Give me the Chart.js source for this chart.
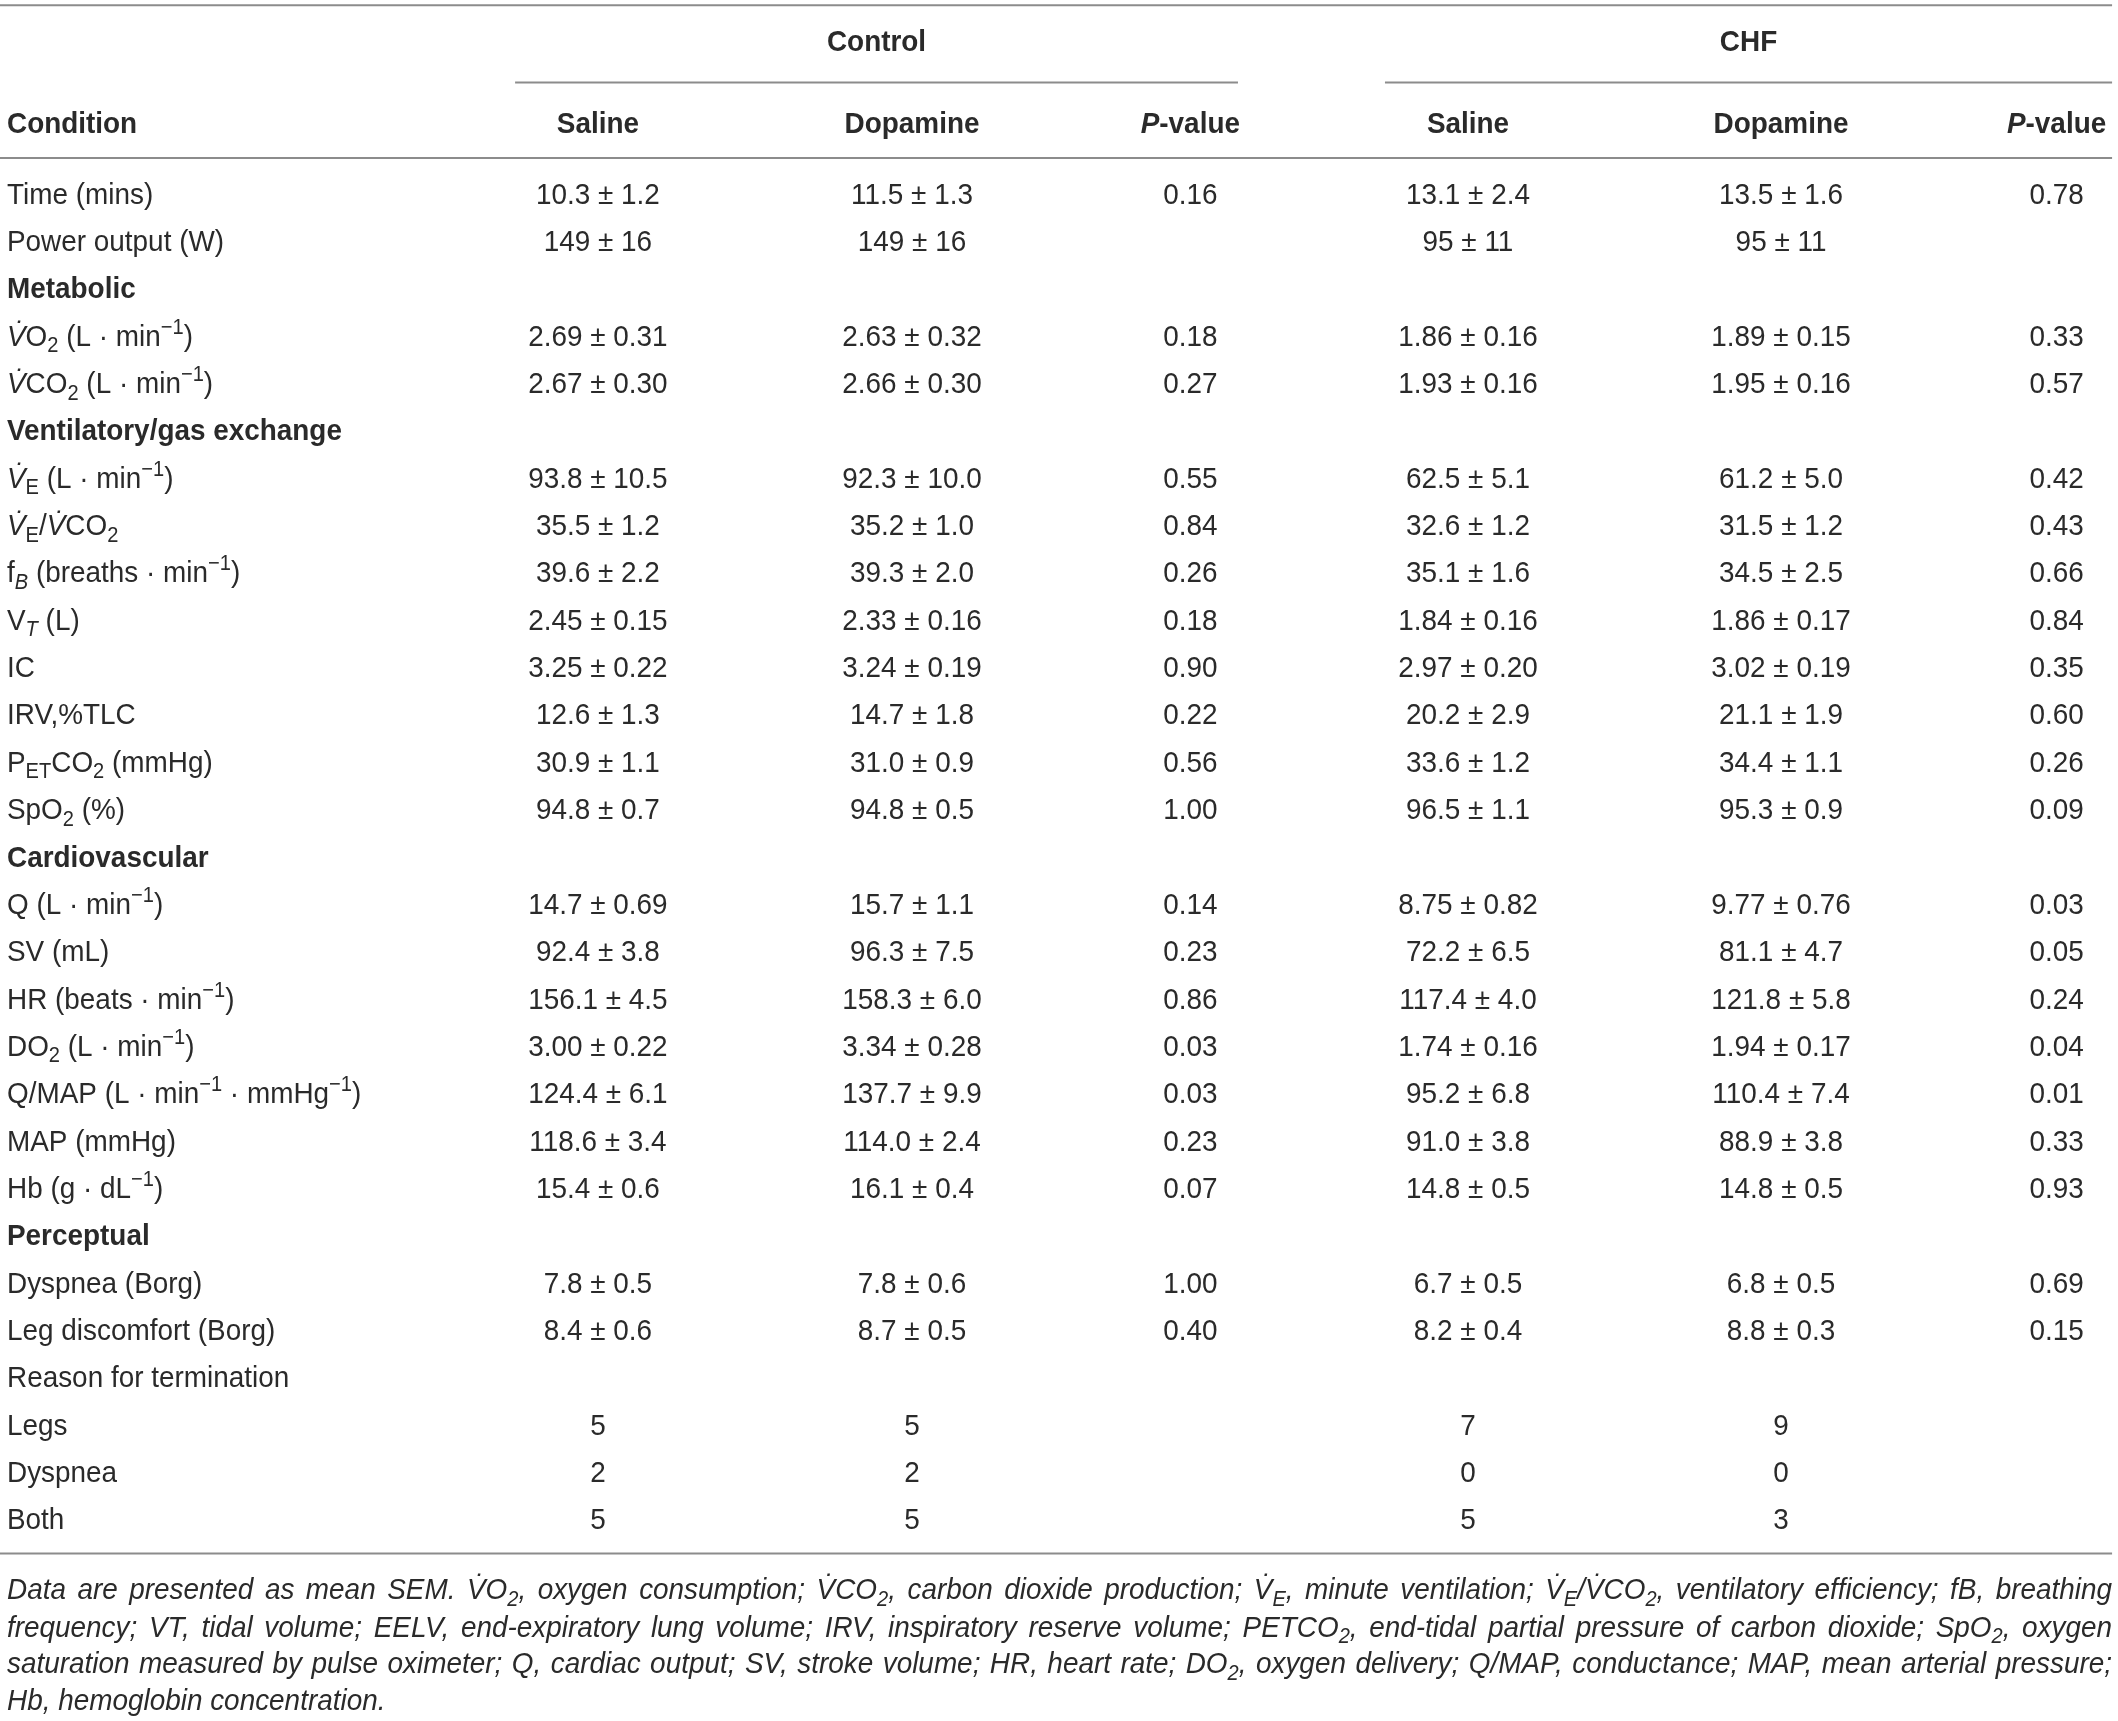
<!DOCTYPE html>
<html lang="en">
<head>
<meta charset="utf-8" />
<title>Control vs CHF table</title>
<script src="https://cdn.jsdelivr.net/npm/chart.js@4.4.1/dist/chart.umd.min.js"></script>
<style>
  html, body { margin: 0; padding: 0; background: #fff; }
  canvas { display: block; }
</style>
</head>
<body>
<canvas id="tbl" width="2118" height="1721"></canvas>
<script>
// ---- table data ----
// markup: _{..} subscript, ^{..} superscript, *{..} italic, !{..} bold
const V = '*{V\u0307}';
const conditions = [
  'Time (mins)', 'Power output (W)', '!{Metabolic}',
  V + 'O_{2} (L · min^{\u22121})', V + 'CO_{2} (L · min^{\u22121})',
  '!{Ventilatory/gas exchange}',
  V + '_{E} (L · min^{\u22121})', V + '_{E}/' + V + 'CO_{2}',
  'f_{*{B}} (breaths · min^{\u22121})', 'V_{*{T}} (L)', 'IC', 'IRV,%TLC',
  'P_{ET}CO_{2} (mmHg)', 'SpO_{2} (%)',
  '!{Cardiovascular}',
  'Q (L · min^{\u22121})', 'SV (mL)', 'HR (beats · min^{\u22121})', 'DO_{2} (L · min^{\u22121})',
  'Q/MAP (L · min^{\u22121} · mmHg^{\u22121})', 'MAP (mmHg)', 'Hb (g · dL^{\u22121})',
  '!{Perceptual}',
  'Dyspnea (Borg)', 'Leg discomfort (Borg)', 'Reason for termination',
  'Legs', 'Dyspnea', 'Both'
];
const ctrlSaline = ['10.3 ± 1.2', '149 ± 16', '', '2.69 ± 0.31', '2.67 ± 0.30', '',
  '93.8 ± 10.5', '35.5 ± 1.2', '39.6 ± 2.2', '2.45 ± 0.15', '3.25 ± 0.22', '12.6 ± 1.3', '30.9 ± 1.1', '94.8 ± 0.7', '',
  '14.7 ± 0.69', '92.4 ± 3.8', '156.1 ± 4.5', '3.00 ± 0.22', '124.4 ± 6.1', '118.6 ± 3.4', '15.4 ± 0.6', '',
  '7.8 ± 0.5', '8.4 ± 0.6', '', '5', '2', '5'];
const ctrlDopamine = ['11.5 ± 1.3', '149 ± 16', '', '2.63 ± 0.32', '2.66 ± 0.30', '',
  '92.3 ± 10.0', '35.2 ± 1.0', '39.3 ± 2.0', '2.33 ± 0.16', '3.24 ± 0.19', '14.7 ± 1.8', '31.0 ± 0.9', '94.8 ± 0.5', '',
  '15.7 ± 1.1', '96.3 ± 7.5', '158.3 ± 6.0', '3.34 ± 0.28', '137.7 ± 9.9', '114.0 ± 2.4', '16.1 ± 0.4', '',
  '7.8 ± 0.6', '8.7 ± 0.5', '', '5', '2', '5'];
const ctrlP = ['0.16', '', '', '0.18', '0.27', '',
  '0.55', '0.84', '0.26', '0.18', '0.90', '0.22', '0.56', '1.00', '',
  '0.14', '0.23', '0.86', '0.03', '0.03', '0.23', '0.07', '',
  '1.00', '0.40', '', '', '', ''];
const chfSaline = ['13.1 ± 2.4', '95 ± 11', '', '1.86 ± 0.16', '1.93 ± 0.16', '',
  '62.5 ± 5.1', '32.6 ± 1.2', '35.1 ± 1.6', '1.84 ± 0.16', '2.97 ± 0.20', '20.2 ± 2.9', '33.6 ± 1.2', '96.5 ± 1.1', '',
  '8.75 ± 0.82', '72.2 ± 6.5', '117.4 ± 4.0', '1.74 ± 0.16', '95.2 ± 6.8', '91.0 ± 3.8', '14.8 ± 0.5', '',
  '6.7 ± 0.5', '8.2 ± 0.4', '', '7', '0', '5'];
const chfDopamine = ['13.5 ± 1.6', '95 ± 11', '', '1.89 ± 0.15', '1.95 ± 0.16', '',
  '61.2 ± 5.0', '31.5 ± 1.2', '34.5 ± 2.5', '1.86 ± 0.17', '3.02 ± 0.19', '21.1 ± 1.9', '34.4 ± 1.1', '95.3 ± 0.9', '',
  '9.77 ± 0.76', '81.1 ± 4.7', '121.8 ± 5.8', '1.94 ± 0.17', '110.4 ± 7.4', '88.9 ± 3.8', '14.8 ± 0.5', '',
  '6.8 ± 0.5', '8.8 ± 0.3', '', '9', '0', '3'];
const chfP = ['0.78', '', '', '0.33', '0.57', '',
  '0.42', '0.43', '0.66', '0.84', '0.35', '0.60', '0.26', '0.09', '',
  '0.03', '0.05', '0.24', '0.04', '0.01', '0.33', '0.93', '',
  '0.69', '0.15', '', '', '', ''];

const groupHeaders = ['Control', 'CHF'];
const columnHeaders = ['Condition', 'Saline', 'Dopamine', '*{P}-value', 'Saline', 'Dopamine', '*{P}-value'];
const footnote = [
  'Data are presented as mean SEM. V\u0307O_{2}, oxygen consumption; V\u0307CO_{2}, carbon dioxide production; V\u0307_{E}, minute ventilation; V\u0307_{E}/V\u0307CO_{2}, ventilatory efficiency; fB, breathing',
  'frequency; VT, tidal volume; EELV, end-expiratory lung volume; IRV, inspiratory reserve volume; PETCO_{2}, end-tidal partial pressure of carbon dioxide; SpO_{2}, oxygen',
  'saturation measured by pulse oximeter; Q, cardiac output; SV, stroke volume; HR, heart rate; DO_{2}, oxygen delivery; Q/MAP, conductance; MAP, mean arterial pressure;',
  'Hb, hemoglobin concentration.'
];

// ---- layout (x in % of width, y in row units) ----
const columns = [conditions, ctrlSaline, ctrlDopamine, ctrlP, chfSaline, chfDopamine, chfP];
const colX = [0.33, 28.23, 43.06, 56.2, 69.31, 84.09, 97.1];
const groupSpan = [[24.32, 58.45], [65.39, 99.72]];
const yTopRule = -3.97, yGroup = -3.225, yGroupRule = -2.34, yHead = -1.484, yHeadRule = -0.743;
const yBottomRule = 28.73, yFoot = [29.47, 30.27, 31.04, 31.81];

const FONT = '"Liberation Sans", Arial, sans-serif';
const SIZE = 30, FOOT_SIZE = 30, XS = 0.93;
const INK = '#2a2a2a', RULE = '#8c8c8c';

function parseRich(str, base) {
  const runs = [];
  let i = 0, buf = '';
  const flush = () => { if (buf) { runs.push(Object.assign({ t: buf }, base)); buf = ''; } };
  while (i < str.length) {
    const c = str[i];
    if ('_^*!'.indexOf(c) >= 0 && str[i + 1] === '{') {
      flush();
      let depth = 1, j = i + 2;
      while (j < str.length && depth) {
        if (str[j] === '{') depth++;
        else if (str[j] === '}') depth--;
        j++;
      }
      const st = Object.assign({}, base);
      if (c === '_') st.level = -1;
      else if (c === '^') st.level = 1;
      else if (c === '*') st.italic = true;
      else st.bold = true;
      runs.push.apply(runs, parseRich(str.slice(i + 2, j - 1), st));
      i = j;
    } else { buf += c; i++; }
  }
  flush();
  return runs;
}

function runFont(r, size) {
  const s = r.level ? size * 0.72 : size;
  return (r.italic ? 'italic ' : '') + (r.bold ? 'bold ' : '') + s + 'px ' + FONT;
}

function drawRich(ctx, str, x, y, opts) {
  const size = opts.size || SIZE;
  const runs = parseRich(str, { italic: !!opts.italic, bold: !!opts.bold, level: 0 });
  let total = 0;
  runs.forEach(r => { ctx.font = runFont(r, size); r.w = ctx.measureText(r.t).width; total += r.w; });
  let extra = 0, sx = XS;
  if (opts.justify) {
    const spaces = runs.reduce((n, r) => n + (r.t.match(/ /g) || []).length, 0);
    extra = (opts.justify / XS - total) / spaces;
    if (extra < -4) { sx = opts.justify / total; extra = 0; }
  }
  let cx = x;
  if (opts.align === 'center') cx = x - total * sx / 2;
  const base = y + size * 0.35;
  ctx.save();
  ctx.translate(cx, 0);
  ctx.scale(sx, 1);
  let px = 0;
  runs.forEach(r => {
    ctx.font = runFont(r, size);
    const by = base + (r.level === -1 ? size * 0.22 : r.level === 1 ? -size * 0.4 : 0);
    if (extra) {
      const parts = r.t.split(' ');
      const sw = ctx.measureText(' ').width;
      parts.forEach((p, k) => {
        ctx.fillText(p, px, by);
        px += ctx.measureText(p).width;
        if (k < parts.length - 1) px += sw + extra;
      });
    } else {
      ctx.fillText(r.t, px, by);
      px += r.w;
    }
  });
  ctx.restore();
}

const tablePlugin = {
  id: 'tableText',
  afterDraw(chart) {
    const ctx = chart.ctx, xs = chart.scales.x, ys = chart.scales.y;
    const X = v => xs.getPixelForValue(v), Y = v => ys.getPixelForValue(v);
    ctx.save();
    ctx.fillStyle = INK;
    ctx.textBaseline = 'alphabetic';
    ctx.textAlign = 'left';

    // rules
    ctx.strokeStyle = RULE;
    ctx.lineWidth = 2;
    const hline = (a, b, v) => { ctx.beginPath(); ctx.moveTo(X(a), Y(v)); ctx.lineTo(X(b), Y(v)); ctx.stroke(); };
    hline(0, 99.72, yTopRule);
    groupSpan.forEach(s => hline(s[0], s[1], yGroupRule));
    hline(0, 99.72, yHeadRule);
    hline(0, 99.72, yBottomRule);

    // headers
    groupHeaders.forEach((g, k) => drawRich(ctx, g, X((groupSpan[k][0] + groupSpan[k][1]) / 2), Y(yGroup), { bold: true, align: 'center' }));
    columnHeaders.forEach((h, ci) => drawRich(ctx, h, X(colX[ci]), Y(yHead), { bold: true, align: ci ? 'center' : 'left' }));

    // body cells, placed at each dataset point
    columns.forEach((col, ci) => {
      const meta = chart.getDatasetMeta(ci);
      meta.data.forEach((pt, ri) => {
        if (col[ri]) drawRich(ctx, col[ri], pt.x, pt.y, { align: ci ? 'center' : 'left' });
      });
    });

    // footnote
    footnote.forEach((line, k) => {
      drawRich(ctx, line, X(0.33), Y(yFoot[k]), { italic: true, size: FOOT_SIZE, justify: k < footnote.length - 1 ? X(99.72) - X(0.33) : 0 });
    });
    ctx.restore();
  }
};

new Chart(document.getElementById('tbl').getContext('2d'), {
  type: 'scatter',
  data: {
    datasets: columns.map((col, ci) => ({
      label: 'col' + ci,
      data: col.map((_, ri) => ({ x: colX[ci], y: ri })),
      pointRadius: 0,
      pointHoverRadius: 0
    }))
  },
  options: {
    responsive: false,
    animation: false,
    devicePixelRatio: 1,
    layout: { padding: 0 },
    events: [],
    plugins: { legend: { display: false }, tooltip: { enabled: false } },
    scales: {
      x: { type: 'linear', display: false, min: 0, max: 100 },
      y: { type: 'linear', display: false, reverse: true, min: -4.08, max: 32.27 }
    }
  },
  plugins: [tablePlugin]
});
</script>
</body>
</html>
